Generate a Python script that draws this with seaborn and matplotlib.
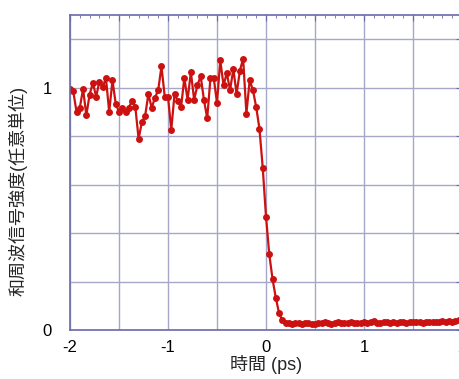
import numpy as np
import pandas as pd
import seaborn as sns
import matplotlib.pyplot as plt
from matplotlib.ticker import MultipleLocator, FuncFormatter

# time axis: 1/30 ps sampling from -2 ps to 2 ps
t_start = -2.0
t_step = 1 / 30
n_points = 121

# sum-frequency signal (arb. units)
signal = [
    0.995, 0.985, 0.90, 0.917, 0.995, 0.886, 0.971, 1.02, 0.963, 1.025,
    1.003, 1.04, 0.90, 1.03, 0.934, 0.90, 0.917, 0.90, 0.917, 0.946,
    0.92, 0.789, 0.857, 0.884, 0.974, 0.917, 0.958, 0.99, 1.088, 0.963,
    0.963, 0.826, 0.974, 0.946, 0.92, 1.04, 0.95, 1.065, 0.95, 1.01,
    1.048, 0.95, 0.874, 1.04, 1.04, 0.937, 1.113, 1.01, 1.06, 0.99,
    1.077, 0.974, 1.07, 1.12, 0.893, 1.03, 0.99, 0.92, 0.83, 0.67,
    0.468, 0.313, 0.21, 0.133, 0.069, 0.041,
    0.030, 0.028, 0.026, 0.029, 0.027, 0.025, 0.028, 0.030, 0.026, 0.024,
    0.027, 0.029, 0.031, 0.028, 0.026, 0.029, 0.033, 0.030, 0.027, 0.029,
    0.031, 0.028, 0.030, 0.027, 0.032, 0.029, 0.031, 0.036, 0.030, 0.028,
    0.031, 0.033, 0.029, 0.032, 0.030, 0.034, 0.031, 0.029, 0.033, 0.035,
    0.031, 0.032, 0.030, 0.034, 0.033, 0.031, 0.035, 0.033, 0.036, 0.034,
    0.037, 0.035, 0.038, 0.040, 0.041,
]
time_ps = t_start + t_step * np.arange(n_points)

xlabel = "時間 (ps)"
ylabel = "和周波信号強度(任意単位)"
ytick_labels = {0: "0", 1: "1"}

df = pd.DataFrame({"time": time_ps, "signal": signal})

sns.set_style("white")
plt.rcParams["font.family"] = ["Liberation Sans", "Noto Sans CJK JP", "DejaVu Sans"]

fig = plt.figure(figsize=(4.59, 3.79), dpi=100)
ax = fig.add_axes([70 / 459, 49 / 379, 392 / 459, 315 / 379])

sns.lineplot(data=df, x="time", y="signal", ax=ax, color="#cc1111",
             marker="o", markersize=5, markeredgewidth=0, linewidth=1.6)

ax.set_xlim(-2, 2)
ax.set_ylim(0, 1.3)

ax.xaxis.set_major_locator(MultipleLocator(0.5))
ax.xaxis.set_minor_locator(MultipleLocator(0.1))
ax.yaxis.set_major_locator(MultipleLocator(0.2))
ax.xaxis.set_major_formatter(FuncFormatter(
    lambda v, p: f"{round(v)}" if abs(v - round(v)) < 1e-6 else ""))
ax.yaxis.set_major_formatter(FuncFormatter(
    lambda v, p: ytick_labels.get(round(v), "") if abs(v - round(v)) < 1e-6 else ""))

ax.grid(True, which="major", color="#a6a6c8", linewidth=1.0)
for s in ax.spines.values():
    s.set_color("#6a6aaa")
    s.set_linewidth(1.2)
ax.tick_params(which="both", direction="in", top=True, right=True,
               color="#6a6aaa", labelsize=12, labelcolor="black")
ax.tick_params(which="major", length=4)
ax.tick_params(axis="x", which="major", pad=7)
ax.tick_params(axis="y", which="major", pad=13)
ax.tick_params(which="minor", length=2.5)

ax.set_xlabel(xlabel, fontsize=13, labelpad=0)
ax.set_ylabel(ylabel, fontsize=13)
ax.yaxis.set_label_coords(-0.108, 0.44)

fig.savefig("out.png", dpi=100)
